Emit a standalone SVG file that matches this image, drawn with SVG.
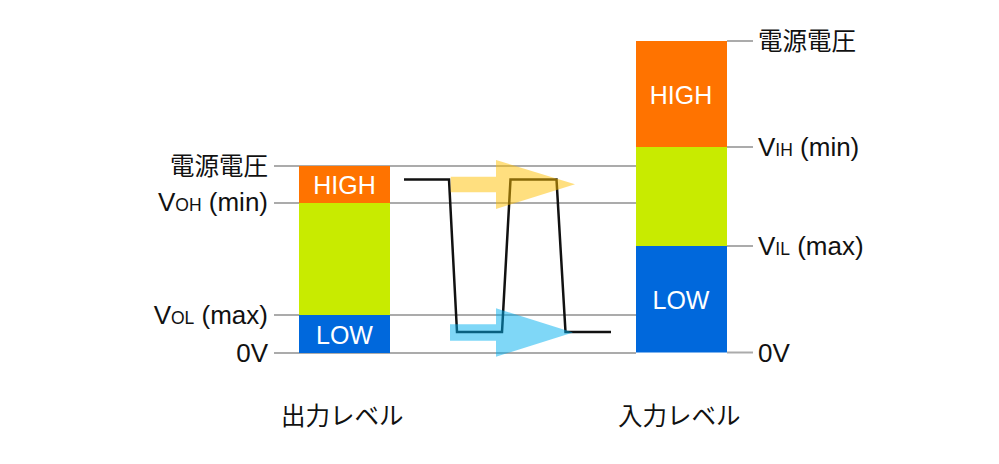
<svg xmlns="http://www.w3.org/2000/svg" width="999" height="464" viewBox="0 0 999 464">
<style>
.grid{stroke:#ababab;stroke-width:2;fill:none}
.lbl{font-family:"Liberation Sans","Noto Sans CJK JP",sans-serif;font-size:26px;fill:#111}
.jp{font-family:"Noto Sans CJK JP","Liberation Sans",sans-serif;font-size:24.5px;fill:#111}
.sub{font-size:17.5px}
.bar{font-family:"Liberation Sans",sans-serif;font-size:25px;fill:#fff;text-anchor:middle}
.wave{stroke:#111;stroke-width:2.5;fill:none;stroke-linejoin:miter}
</style>
<rect width="999" height="464" fill="#fff"/>
<g id="levels-lines">
<line class="grid" x1="274" y1="166" x2="636" y2="166"/>
<line class="grid" x1="274" y1="203" x2="636" y2="203"/>
<line class="grid" x1="274" y1="315" x2="636" y2="315"/>
<line class="grid" x1="274" y1="353" x2="636" y2="353"/>
<line class="grid" x1="727" y1="41" x2="753" y2="41"/>
<line class="grid" x1="727" y1="147" x2="753" y2="147"/>
<line class="grid" x1="727" y1="246" x2="753" y2="246"/>
<line class="grid" x1="727" y1="352.5" x2="753" y2="352.5"/>
</g>
<g id="output-bar">
<rect x="299" y="166" width="91" height="37" fill="#ff7300"/>
<rect x="299" y="203" width="91" height="112" fill="#c8eb00"/>
<rect x="299" y="315" width="91" height="38" fill="#0068dc"/>
<text class="bar" x="344.5" y="194">HIGH</text>
<text class="bar" x="344.5" y="343.5">LOW</text>
</g>
<g id="input-bar">
<rect x="636" y="41" width="91" height="106" fill="#ff7300"/>
<rect x="636" y="147" width="91" height="99" fill="#c8eb00"/>
<rect x="636" y="246" width="91" height="106.5" fill="#0068dc"/>
<text class="bar" x="681" y="103.5">HIGH</text>
<text class="bar" x="681" y="308.5">LOW</text>
</g>
<g id="output-labels">
<text class="jp" x="268" y="175" text-anchor="end">電源電圧</text>
<text class="lbl" x="268" y="211" text-anchor="end">V<tspan class="sub">OH</tspan> (min)</text>
<text class="lbl" x="268" y="324" text-anchor="end">V<tspan class="sub">OL</tspan> (max)</text>
<text class="lbl" x="268" y="362" text-anchor="end">0V</text>
<text class="jp" x="281" y="425">出力レベル</text>
</g>
<g id="input-labels">
<text class="jp" x="758" y="50">電源電圧</text>
<text class="lbl" x="758" y="156">V<tspan class="sub">IH</tspan> (min)</text>
<text class="lbl" x="758" y="255">V<tspan class="sub">IL</tspan> (max)</text>
<text class="lbl" x="758" y="361.5">0V</text>
<text class="jp" x="618" y="425">入力レベル</text>
</g>
<g id="connectors">
<polyline class="wave" points="404,179.5 449,179.5 457,332 502,332 510.5,179.5 556.5,179.5 565.5,332 611,332"/>
<polygon points="450.7,176.7 496,176.7 496,160 575,184.3 496,209 496,192.3 450.7,192.3" fill="#ffc000" fill-opacity="0.5"/>
<polygon points="450,324.3 496,324.3 496,308.3 573,332.5 496,356.7 496,340.7 450,340.7" fill="#00b0f0" fill-opacity="0.5"/>
</g>
</svg>
